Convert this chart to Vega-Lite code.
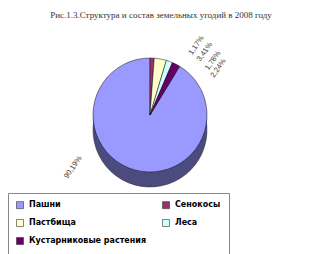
{
  "$schema": "https://vega.github.io/schema/vega-lite/v6.json",
  "width": 300,
  "height": 170,
  "autosize": {"type": "none"},
  "padding": {"left": 0, "top": 30, "right": 23, "bottom": 54},
  "title": {
    "text": "Рис.1.3.Структура и состав земельных угодий в 2008 году",
    "font": "Liberation Serif",
    "fontSize": 9,
    "fontWeight": "normal",
    "color": "#333333",
    "dx": 11,
    "offset": 10
  },
  "data": {
    "values": [
      {"n": 1, "category": "Пашни", "share": 0.9019},
      {"n": 2, "category": "Сенокосы", "share": 0.0117},
      {"n": 3, "category": "Пастбища", "share": 0.0341},
      {"n": 4, "category": "Леса", "share": 0.0178},
      {"n": 5, "category": "Кустарниковые растения", "share": 0.0224}
    ]
  },
  "layer": [
    {
      "mark": {"type": "arc", "radius": 57, "yOffset": 15, "fill": "#4B4B80", "stroke": "#222222", "strokeWidth": 0.5},
      "encoding": {
        "theta": {"field": "share", "type": "quantitative", "scale": {"range": [0.547, 6.830]}},
        "order": {"field": "n", "type": "quantitative"}
      }
    },
    {
      "mark": {"type": "arc", "radius": 57, "yOffset": 8, "fill": "#4B4B80"},
      "encoding": {
        "theta": {"field": "share", "type": "quantitative", "scale": {"range": [0.547, 6.830]}},
        "order": {"field": "n", "type": "quantitative"}
      }
    },
    {
      "mark": {"type": "arc", "radius": 57, "stroke": "#111111", "strokeWidth": 0.5},
      "encoding": {
        "theta": {"field": "share", "type": "quantitative", "scale": {"range": [0.547, 6.830]}},
        "order": {"field": "n", "type": "quantitative"},
        "color": {
          "field": "category",
          "type": "nominal",
          "scale": {
            "domain": ["Пашни", "Пастбища", "Кустарниковые растения", "Сенокосы", "Леса"],
            "range": ["#9999FF", "#FFFFCC", "#660066", "#993366", "#CCFFFF"]
          },
          "legend": {
            "orient": "none",
            "legendX": 8,
            "legendY": 163,
            "columns": 2,
            "title": null,
            "strokeColor": "#888888",
            "padding": 8,
            "rowPadding": 8,
            "columnPadding": 14,
            "gridAlign": "all",
            "labelFont": "DejaVu Sans",
            "labelFontWeight": "bold",
            "labelFontSize": 8,
            "labelColor": "#000000",
            "labelOffset": 5,
            "symbolType": "square",
            "symbolSize": 49,
            "symbolStrokeColor": "#333333",
            "symbolStrokeWidth": 0.6
          }
        }
      }
    },
    {
      "transform": [{"filter": "datum.share < 0.5"}],
      "mark": {"type": "text", "radius": 73, "angle": 305, "align": "left", "baseline": "middle", "font": "Liberation Sans", "fontSize": 7.5, "fill": "#404040"},
      "encoding": {
        "theta": {"field": "share", "type": "quantitative", "stack": true, "scale": {"range": [0.547, 6.830]}},
        "order": {"field": "n", "type": "quantitative"},
        "text": {"field": "share", "type": "quantitative", "format": ".2%"}
      }
    },
    {
      "transform": [{"filter": "datum.share >= 0.5"}],
      "mark": {"type": "text", "radius": 60, "angle": 305, "align": "left", "baseline": "middle", "font": "Liberation Sans", "fontSize": 7.5, "fill": "#404040", "xOffset": -68, "yOffset": 5},
      "encoding": {
        "theta": {"field": "share", "type": "quantitative", "stack": true, "scale": {"range": [0.547, 6.830]}},
        "order": {"field": "n", "type": "quantitative"},
        "text": {"field": "share", "type": "quantitative", "format": ".2%"}
      }
    }
  ],
  "config": {
    "view": {"stroke": null},
    "locale": {
      "number": {"decimal": ",", "thousands": " ", "grouping": [3], "currency": ["", " ₽"]}
    }
  }
}
